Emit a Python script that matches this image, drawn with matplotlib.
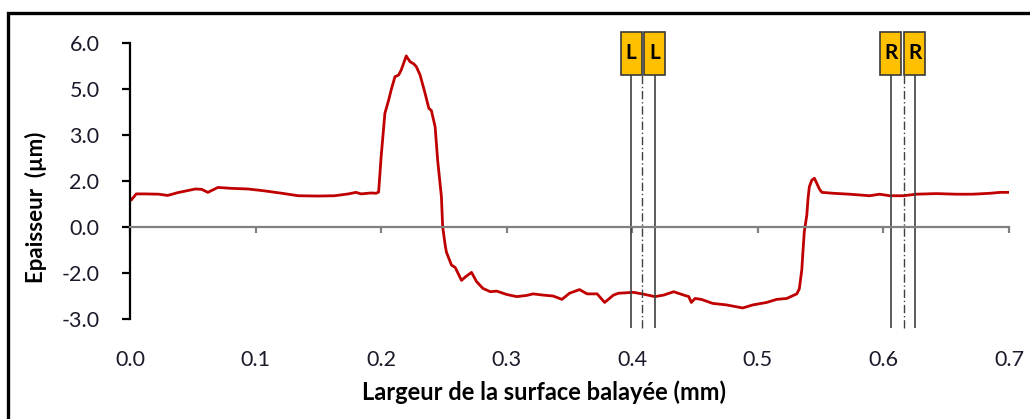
import matplotlib.pyplot as plt
from matplotlib.patches import Rectangle

# profil d'épaisseur le long de la largeur balayée
largeur = [0.000, 0.001, 0.005, 0.012, 0.023, 0.030, 0.038, 0.052, 0.057, 0.062,
           0.070, 0.081, 0.094, 0.107, 0.121, 0.134, 0.150, 0.163, 0.174, 0.180,
           0.184, 0.192, 0.196, 0.198, 0.200, 0.203, 0.206, 0.208, 0.211, 0.214,
           0.216, 0.220, 0.223, 0.226, 0.228, 0.231, 0.235, 0.238, 0.240, 0.243,
           0.245, 0.248, 0.249, 0.251, 0.252, 0.256, 0.259, 0.264, 0.267, 0.272,
           0.276, 0.281, 0.287, 0.292, 0.300, 0.308, 0.316, 0.321, 0.329, 0.337,
           0.344, 0.350, 0.358, 0.364, 0.372, 0.378, 0.385, 0.389, 0.401, 0.409,
           0.418, 0.425, 0.433, 0.441, 0.445, 0.447, 0.450, 0.455, 0.464, 0.475,
           0.488, 0.496, 0.507, 0.515, 0.523, 0.531, 0.533, 0.535, 0.536, 0.537,
           0.539, 0.540, 0.541, 0.543, 0.545, 0.547, 0.549, 0.551, 0.560, 0.573,
           0.589, 0.597, 0.605, 0.616, 0.626, 0.642, 0.658, 0.671, 0.685, 0.693,
           0.699]
epaisseur = [0.95, 0.89, 1.09, 1.09, 1.08, 1.04, 1.13, 1.25, 1.24, 1.14,
             1.30, 1.27, 1.25, 1.19, 1.11, 1.03, 1.02, 1.03, 1.09, 1.14,
             1.09, 1.12, 1.11, 1.15, 2.30, 3.72, 4.15, 4.48, 4.91, 4.97,
             5.13, 5.59, 5.40, 5.33, 5.24, 4.97, 4.37, 3.88, 3.81, 3.28,
             2.19, 1.00, 0.02, -0.58, -0.81, -1.23, -1.31, -1.73, -1.62, -1.47,
             -1.77, -1.99, -2.10, -2.08, -2.19, -2.26, -2.22, -2.17, -2.21, -2.24,
             -2.35, -2.15, -2.03, -2.17, -2.17, -2.45, -2.21, -2.15, -2.12, -2.18,
             -2.26, -2.21, -2.10, -2.21, -2.26, -2.45, -2.32, -2.35, -2.48, -2.53,
             -2.63, -2.53, -2.45, -2.35, -2.32, -2.17, -2.01, -1.39, -0.74, -0.14,
             0.40, 0.95, 1.32, 1.54, 1.60, 1.43, 1.25, 1.14, 1.11, 1.08,
             1.03, 1.08, 1.03, 1.03, 1.08, 1.10, 1.08, 1.08, 1.11, 1.14,
             1.14]

y_ticks = [-3.0, -1.5, 0.0, 1.5, 3.0, 4.5, 6.0]
y_ticklabels = ["-3.0", "-2.0", "0.0", "2.0", "3.0", "5.0", "6.0"]
x_ticks = [0.0, 0.1, 0.2, 0.3, 0.4, 0.5, 0.6, 0.7]

# repères gauche (L) et droite (R) : deux bords et l'axe mixte
bords_L = [0.399, 0.418]
axe_L = 0.408
bords_R = [0.606, 0.625]
axe_R = 0.616

plt.rcParams['font.family'] = ['Lato', 'DejaVu Sans']

fig = plt.figure(figsize=(10.30, 4.19), dpi=100)
ax = fig.add_axes([0.1262, 0.2379, 0.8534, 0.6587])

ax.plot(largeur, epaisseur, color='#C00000', lw=2.0, solid_joinstyle='round')

ax.set_xlim(0, 0.7)
ax.set_ylim(-3, 6)

for s in ['top', 'right']:
    ax.spines[s].set_visible(False)
ax.spines['left'].set_color('black')
ax.spines['left'].set_linewidth(1.6)
ax.spines['bottom'].set_position(('data', 0))
ax.spines['bottom'].set_color('#808080')
ax.spines['bottom'].set_linewidth(1.6)

ax.set_yticks(y_ticks)
ax.set_yticklabels(y_ticklabels)
ax.set_xticks(x_ticks)
ax.set_xticklabels([f"{v:.1f}" for v in x_ticks])
ax.tick_params(axis='y', direction='out', length=6, width=1.6, color='black',
               labelsize=15.5, labelcolor='#1a1a2a', pad=16)
ax.tick_params(axis='x', direction='out', length=4, width=1.6, color='#808080',
               labelsize=15.5, labelcolor='#1a1a2a', pad=84)

ax.set_xlabel("Largeur de la surface balayée (mm)", fontsize=17, fontweight='bold')
ax.xaxis.set_label_coords(0.471, -0.222)
ax.set_ylabel("Epaisseur  (µm)", fontsize=16, fontweight='bold')
ax.yaxis.set_label_coords(-0.094, 0.407)

# traits verticaux et étiquettes
y_bas, y_haut = -3.28, 4.97
ax.vlines(bords_L + bords_R, y_bas, y_haut, colors='#404040', lw=1.2, clip_on=False)
ax.vlines([axe_L, axe_R], y_bas, y_haut, colors='#404040', lw=1.0,
          linestyles=(0, (6, 2, 1, 2)), clip_on=False)
larg_boite, haut_boite = 0.0167, 1.41
for xb, lettre in zip(bords_L + bords_R, ['L', 'L', 'R', 'R']):
    ax.add_patch(Rectangle((xb - larg_boite / 2, y_haut), larg_boite, haut_boite,
                           facecolor='#FFC000', edgecolor='#3a3a3a', lw=1.2,
                           clip_on=False, zorder=5))
    ax.text(xb, y_haut + haut_boite / 2, lettre, ha='center', va='center',
            fontsize=15, fontweight='bold', color='black', zorder=6)

# cadre autour de la figure
fig.patches.append(Rectangle((8 / 1030, -0.2), 1.2, (419 - 13) / 419 + 0.2,
                             transform=fig.transFigure, fill=False,
                             edgecolor='black', lw=2.4))

fig.savefig('out.png', dpi=100)
